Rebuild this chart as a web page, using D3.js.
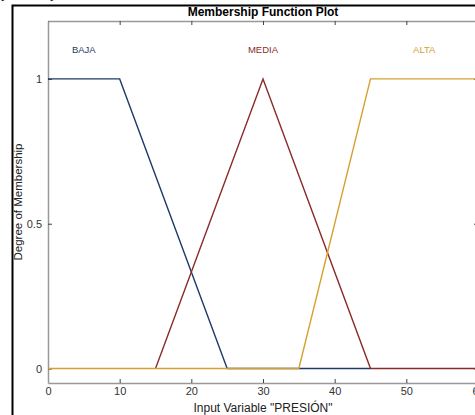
<!DOCTYPE html>
<html lang="en">
<head>
<meta charset="UTF-8">
<title>Membership Function Plot</title>
<script src="https://d3js.org/d3.v7.min.js"></script>
<style>
  body { margin: 0; background: #fff; }
  svg { display: block; font-family: "Liberation Sans", Arial, sans-serif; }
  .tick text { fill: #333; font-size: 11px; }
</style>
</head>
<body>
<svg id="chart" width="475" height="415"></svg>
<script>
// membership functions of "PRESIÓN" (breakpoints)
var mfNames = ["BAJA", "MEDIA", "ALTA"];
var mfColors = ["#1f3a68", "#8a2b2b", "#d6a02e"];
var mfLabelX = [5, 30, 52.5];
var bajaPts = [[0, 1], [10, 1], [25, 0], [45, 0]];
var mediaPts = [[15, 0], [30, 1], [45, 0], [60, 0]];
var altaPts = [[0, 0], [35, 0], [45, 1], [60, 1]];
var xTicks = [0, 10, 20, 30, 40, 50, 60];
var yTicks = [0, 0.5, 1];

var margin = {top: 21, left: 48, bottom: 383, right: 478};
var svg = d3.select("#chart");

var x = d3.scaleLinear().domain([0, 60]).range([margin.left, margin.right]);
var y = d3.scaleLinear().domain([-0.05, 1.2]).range([margin.bottom, margin.top]);

// bits of the page above the crop
svg.append("text").attr("x", 1).attr("y", -2).style("font-family", "Liberation Serif").style("font-size", "14px").text("p");
svg.append("text").attr("x", 50).attr("y", -2).style("font-family", "Liberation Serif").style("font-size", "14px").text("p");

// outer window frame
svg.append("path")
    .attr("d", "M12.5,415V5.5H475")
    .attr("fill", "none").attr("stroke", "#000").attr("stroke-width", 2);

svg.append("text")
    .attr("x", 263).attr("y", 16)
    .attr("text-anchor", "middle")
    .style("font-size", "12px").style("font-weight", "bold")
    .text("Membership Function Plot");

// axes (ticks pointing inward)
function styleAxis(g) {
  g.select(".domain").attr("stroke", "#999").attr("stroke-width", 1.5);
  g.selectAll(".tick line").attr("stroke", "#444");
}

svg.append("g")
    .attr("transform", `translate(0,${margin.bottom})`)
    .call(d3.axisBottom(x).tickValues(xTicks).tickSizeInner(-4).tickSizeOuter(0).tickPadding(4))
    .call(styleAxis);

svg.append("g")
    .attr("transform", `translate(0,${margin.top})`)
    .call(d3.axisTop(x).tickValues(xTicks).tickSizeInner(-4).tickSizeOuter(0).tickFormat(""))
    .call(styleAxis);

svg.append("g")
    .attr("transform", `translate(${margin.left},0)`)
    .call(d3.axisLeft(y).tickValues(yTicks).tickSizeInner(-4).tickSizeOuter(0).tickPadding(6).tickFormat(d3.format("")))
    .call(styleAxis);

svg.append("g")
    .attr("transform", `translate(${margin.right},0)`)
    .call(d3.axisRight(y).tickValues(yTicks).tickSizeInner(-4).tickSizeOuter(0).tickFormat(""))
    .call(styleAxis);

// membership curves
var line = d3.line().x(function(d) { return x(d[0]); }).y(function(d) { return y(d[1]); });
[bajaPts, mediaPts, altaPts].forEach(function(pts, i) {
  svg.append("path")
      .attr("d", line(pts))
      .attr("fill", "none")
      .attr("stroke", mfColors[i])
      .attr("stroke-width", 1.4);
});

mfNames.forEach(function(name, i) {
  svg.append("text")
      .attr("x", x(mfLabelX[i])).attr("y", y(1.1) + 3)
      .attr("text-anchor", "middle")
      .attr("fill", mfColors[i])
      .style("font-size", "9.5px")
      .text(name);
});

svg.append("text")
    .attr("x", 263).attr("y", 412)
    .attr("text-anchor", "middle")
    .style("font-size", "12px").attr("fill", "#222")
    .text('Input Variable "PRESIÓN"');

svg.append("text")
    .attr("transform", "translate(22,202)rotate(-90)")
    .attr("text-anchor", "middle")
    .style("font-size", "11.5px").attr("fill", "#222")
    .text("Degree of Membership");
</script>
</body>
</html>
